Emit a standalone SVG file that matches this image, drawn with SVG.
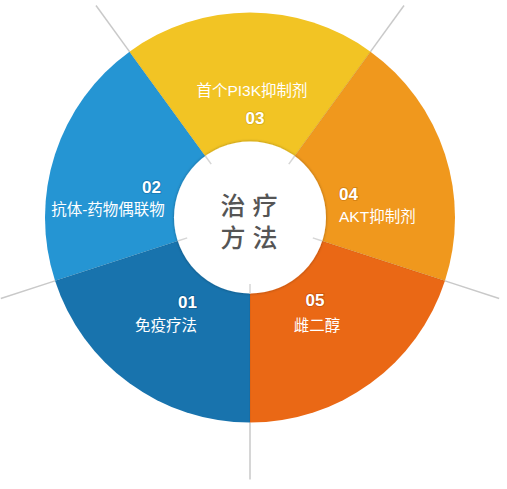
<svg xmlns="http://www.w3.org/2000/svg" width="507" height="489" viewBox="0 0 507 489">
  <style>
    .lbl { font-family: "Liberation Sans", "Noto Sans CJK SC", sans-serif; font-size: 15.5px; fill: #ffffff; }
    .num { font-family: "Liberation Sans", "Noto Sans CJK SC", sans-serif; font-size: 17px; font-weight: bold; fill: #ffffff; paint-order: stroke; stroke-width: 2px; stroke-opacity: 0.45; }
    .ctr { font-family: "Liberation Sans", "Noto Sans CJK SC", sans-serif; font-size: 25px; font-weight: 500; fill: #555555; text-anchor: middle; }
    .guide { stroke: #c9c9c9; stroke-width: 1.5; fill: none; }
    .tick { stroke: #d6d6d6; stroke-width: 1.5; fill: none; }
    .seam { stroke: #000000; stroke-opacity: 0.08; stroke-width: 1; }
  </style>
  <defs>
    <filter id="soft" x="-20%" y="-20%" width="140%" height="140%">
      <feDropShadow dx="0" dy="0" stdDeviation="1.6" flood-color="#000000" flood-opacity="0.35"/>
    </filter>
  </defs>

  <g id="connectors">
    <line class="guide" x1="444.97" y1="280.85" x2="499.18" y2="298.46"/>
    <line class="guide" x1="250" y1="422.5" x2="250" y2="479.5"/>
    <line class="guide" x1="55.03" y1="280.85" x2="0.82" y2="298.46"/>
    <line class="guide" x1="129.5" y1="51.65" x2="96.0" y2="5.54"/>
    <line class="guide" x1="370.5" y1="51.65" x2="404.0" y2="5.54"/>
  </g>

  <g id="seg-05">
    <path d="M250,217.5 L444.97,280.85 A205,205 0 0 1 250,422.5 Z" fill="#ea6815"/>
  </g>
  <g id="seg-01">
    <path d="M250,217.5 L250,422.5 A205,205 0 0 1 55.03,280.85 Z" fill="#1873ad"/>
  </g>
  <g id="seg-02">
    <path d="M250,217.5 L55.03,280.85 A205,205 0 0 1 129.5,51.65 Z" fill="#2595d3"/>
  </g>
  <g id="seg-03">
    <path d="M250,217.5 L129.5,51.65 A205,205 0 0 1 370.5,51.65 Z" fill="#f2c424"/>
  </g>
  <g id="seg-04">
    <path d="M250,217.5 L370.5,51.65 A205,205 0 0 1 444.97,280.85 Z" fill="#f0981d"/>
  </g>

  <g id="seams">
    <line class="seam" x1="250" y1="217.5" x2="444.97" y2="280.85"/>
    <line class="seam" x1="250" y1="217.5" x2="250" y2="422.5"/>
    <line class="seam" x1="250" y1="217.5" x2="55.03" y2="280.85"/>
    <line class="seam" x1="250" y1="217.5" x2="129.5" y2="51.65"/>
    <line class="seam" x1="250" y1="217.5" x2="370.5" y2="51.65"/>
  </g>

  <g id="center">
    <circle cx="250" cy="217.5" r="76" fill="#ffffff" filter="url(#soft)"/>
    <line class="tick" x1="312.77" y1="237.9" x2="322.28" y2="240.99"/>
    <line class="tick" x1="250" y1="284" x2="250" y2="293.5"/>
    <line class="tick" x1="187.23" y1="237.9" x2="177.72" y2="240.99"/>
    <line class="tick" x1="211.21" y1="164.1" x2="205.33" y2="156.01"/>
    <line class="tick" x1="288.79" y1="164.1" x2="294.67" y2="156.01"/>
    <text class="ctr"><tspan x="249" y="215">治 疗</tspan><tspan x="249" y="247">方 法</tspan></text>
  </g>

  <g id="label-03">
    <text class="lbl" x="252" y="96" text-anchor="middle">首个PI3K抑制剂</text>
    <text class="num" x="255" y="124" text-anchor="middle" stroke="#c49a10">03</text>
  </g>
  <g id="label-02">
    <text class="num" x="161" y="193" text-anchor="end" stroke="#0d5f96">02</text>
    <text class="lbl" x="108" y="215" text-anchor="middle">抗体-药物偶联物</text>
  </g>
  <g id="label-04">
    <text class="num" x="339" y="200" stroke="#b86a08">04</text>
    <text class="lbl" x="339" y="222">AKT抑制剂</text>
  </g>
  <g id="label-01">
    <text class="num" x="197" y="308" text-anchor="end" stroke="#0a4a78">01</text>
    <text class="lbl" x="197" y="331" text-anchor="end">免疫疗法</text>
  </g>
  <g id="label-05">
    <text class="num" x="315" y="306" text-anchor="middle" stroke="#a84208">05</text>
    <text class="lbl" x="317" y="331" text-anchor="middle">雌二醇</text>
  </g>
</svg>
